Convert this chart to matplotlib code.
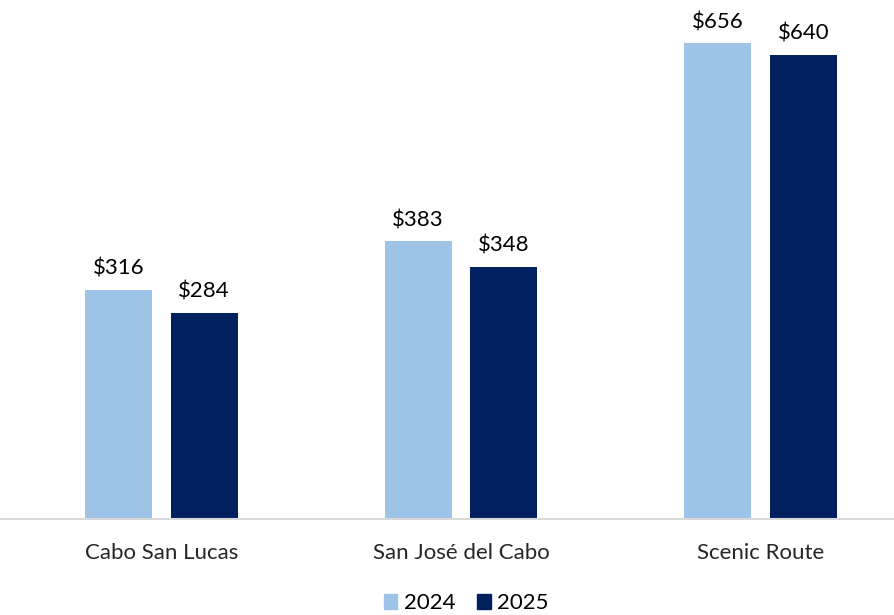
import matplotlib
matplotlib.use('Agg')
import matplotlib.pyplot as plt
import numpy as np
from matplotlib.patches import Patch

# данные
categories = ['Cabo San Lucas', 'San José del Cabo', 'Scenic Route']
values_2024 = [316, 383, 656]
values_2025 = [284, 348, 640]
series_names = ['2024', '2025']

light_blue = '#9DC3E6'
navy = '#002060'

plt.rcParams['font.family'] = ['Lato', 'DejaVu Sans']

fig = plt.figure(figsize=(8.95, 6.15), dpi=100)
ax = fig.add_axes([0.0, 0.156, 1.0, 0.844])

x = np.arange(len(categories))
w = 0.224
off = 0.1427
b1 = ax.bar(x - off, values_2024, w, color=light_blue)
b2 = ax.bar(x + off, values_2025, w, color=navy)

for bars in (b1, b2):
    for r in bars:
        ax.annotate('$%d' % r.get_height(), (r.get_x() + r.get_width() / 2, r.get_height()),
                    xytext=(0, 8), textcoords='offset points', ha='center', va='bottom',
                    fontsize=16, color='#000000')

ax.set_xlim(-0.539, 2.449)
ax.set_ylim(0, 715.7)
ax.set_yticks([])
ax.set_xticks(x)
ax.set_xticklabels(categories, fontsize=16, color='#262626')
ax.tick_params(axis='x', length=0, pad=17)
for s in ['top', 'right', 'left']:
    ax.spines[s].set_visible(False)
ax.spines['bottom'].set_color('#D9D9D9')
ax.spines['bottom'].set_linewidth(1.5)

handles = [Patch(color=light_blue), Patch(color=navy)]
fig.legend(handles, series_names, loc='center', bbox_to_anchor=(0.521, 0.019),
           ncol=2, frameon=False, fontsize=16, handlelength=0.6, handleheight=0.6,
           handletextpad=0.3, columnspacing=1.0)

fig.savefig('out.png', dpi=100)
